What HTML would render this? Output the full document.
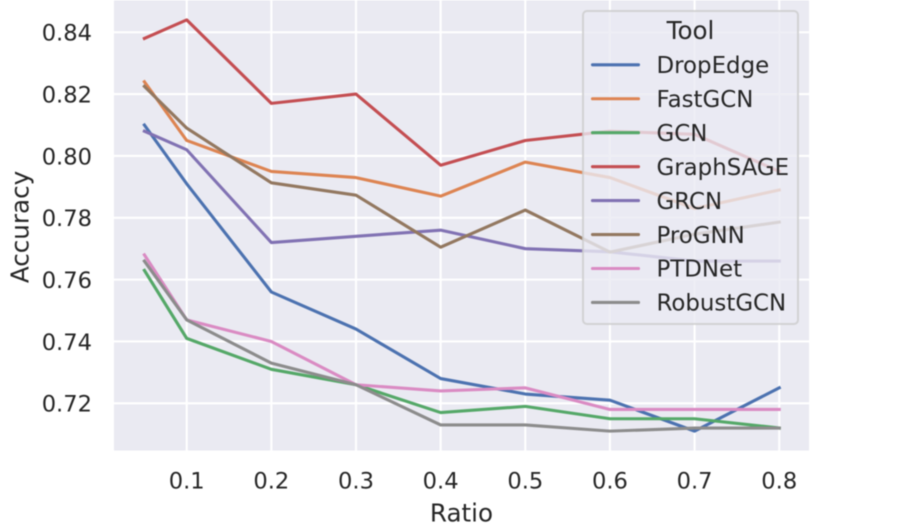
<!DOCTYPE html>
<html lang="en">
<head>
<meta charset="utf-8">
<title>Accuracy vs Ratio</title>
<style>
html,body{margin:0;padding:0;background:#fff;width:900px;height:527px;overflow:hidden}
svg{display:block;filter:blur(0.45px)}
text{font-family:"DejaVu Sans","Liberation Sans",sans-serif;fill:#262626}
</style>
</head>
<body>
<svg id="chart" xmlns="http://www.w3.org/2000/svg" width="900" height="527" viewBox="0 0 900 527"></svg>
<script>
const ratios = [0.05, 0.1, 0.2, 0.3, 0.4, 0.5, 0.6, 0.7, 0.8];
const xTicks = [0.1, 0.2, 0.3, 0.4, 0.5, 0.6, 0.7, 0.8];
const yTicks = [0.72, 0.74, 0.76, 0.78, 0.80, 0.82, 0.84];
const toolNames = ["DropEdge", "FastGCN", "GCN", "GraphSAGE", "GRCN", "ProGNN", "PTDNet", "RobustGCN"];
const toolColors = ["#4c72b0", "#dd8452", "#55a868", "#c44e52", "#8172b3", "#937860", "#da8bc3", "#8c8c8c"];
const dropEdge = [0.810, 0.791, 0.756, 0.744, 0.728, 0.723, 0.721, 0.711, 0.725];
const fastGCN = [0.824, 0.805, 0.795, 0.793, 0.787, 0.798, 0.793, 0.783, 0.789];
const gcn = [0.763, 0.741, 0.731, 0.726, 0.717, 0.719, 0.715, 0.715, 0.712];
const graphSAGE = [0.838, 0.844, 0.817, 0.820, 0.797, 0.805, 0.808, 0.807, 0.795];
const grcn = [0.808, 0.802, 0.772, 0.774, 0.776, 0.770, 0.769, 0.766, 0.766];
const proGNN = [0.8225, 0.809, 0.7913, 0.7873, 0.7705, 0.7825, 0.7689, 0.7747, 0.7786];
const ptdNet = [0.768, 0.747, 0.740, 0.726, 0.724, 0.725, 0.718, 0.718, 0.718];
const robustGCN = [0.766, 0.747, 0.733, 0.726, 0.713, 0.713, 0.711, 0.712, 0.712];
const allSeries = [dropEdge, fastGCN, gcn, graphSAGE, grcn, proGNN, ptdNet, robustGCN];

const NS = "http://www.w3.org/2000/svg";
const svg = document.getElementById("chart");
const plot = {left: 114, right: 809, top: 0.5, bottom: 450.5};
function xScale(v) { return 186.7 + (v - 0.1) * 846.5; }
function yScale(v) { return 403.3 - (v - 0.72) * 3092; }
function make(tag, attrs, parent) {
  const el = document.createElementNS(NS, tag);
  for (const k in attrs) el.setAttribute(k, attrs[k]);
  (parent || svg).appendChild(el);
  return el;
}

const bg = make("rect", {x: plot.left, y: plot.top, width: plot.right - plot.left, height: plot.bottom - plot.top, fill: "#eaeaf2"});



xTicks.forEach(function (t) {
  const x = xScale(t);
  const grid = make("line", {x1: x, x2: x, y1: plot.top, y2: plot.bottom, stroke: "#fff", "stroke-width": 2.1});
  
  
  const label = make("text", {x: x, y: 488.6, "font-size": 22.6, "text-anchor": "middle"});
  label.textContent = t.toFixed(1);
  
  
});

yTicks.forEach(function (t) {
  const y = yScale(t);
  const grid = make("line", {x1: plot.left, x2: plot.right, y1: y, y2: y, stroke: "#fff", "stroke-width": 2.1});
  
  
  const label = make("text", {x: 92, y: y + 8.4, "font-size": 22.6, "text-anchor": "end"});
  label.textContent = t.toFixed(2);
  
  
});

allSeries.forEach(function (values, i) {
  const pts = values.map(function (v, j) { return xScale(ratios[j]).toFixed(2) + "," + yScale(v).toFixed(2); }).join(" ");
  const line = make("polyline", {points: pts, fill: "none", stroke: toolColors[i], "stroke-width": 3.1, "stroke-linecap": "square", "stroke-linejoin": "round"});
  
  
});

const xTitle = make("text", {x: 461.5, y: 521.5, "font-size": 24.6, "text-anchor": "middle"});
xTitle.textContent = "Ratio";



const yTitle = make("text", {x: 0, y: 0, "font-size": 24.6, "text-anchor": "middle", transform: "translate(28.5,227) rotate(-90)"});
yTitle.textContent = "Accuracy";



const legend = make("g", {});


const box = make("rect", {x: 583, y: 11, width: 215, height: 313, rx: 4, ry: 4, fill: "#eaeaf2", "fill-opacity": 0.8, stroke: "#cccccc", "stroke-opacity": 0.8, "stroke-width": 2}, legend);


const legendTitle = make("text", {x: 690.5, y: 39, "font-size": 24.6, "text-anchor": "middle"}, legend);
legendTitle.textContent = "Tool";


toolNames.forEach(function (name, i) {
  const y = 64.8 + i * 33.95;
  const handle = make("line", {x1: 592.5, x2: 638.5, y1: y, y2: y, stroke: toolColors[i], "stroke-width": 3.1, "stroke-linecap": "round"}, legend);
  
  
  const label = make("text", {x: 656.5, y: y + 8.2, "font-size": 22.9}, legend);
  label.textContent = name;
  
  
});
</script>
</body>
</html>
